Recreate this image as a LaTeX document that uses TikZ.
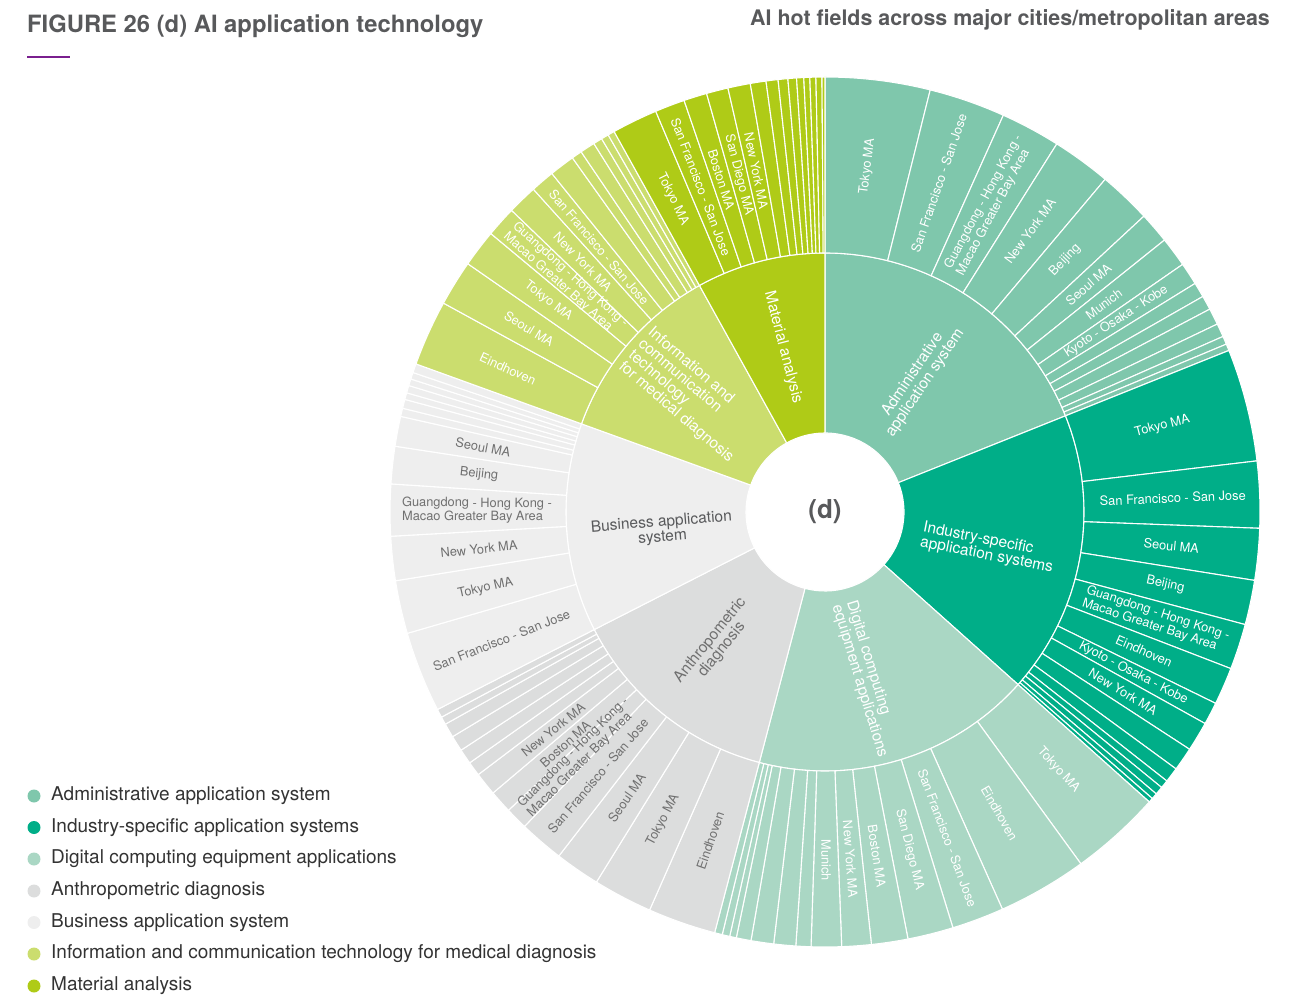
\documentclass[tikz,border=0pt]{standalone}
\usepackage{fontspec}
\setmainfont{TeX Gyre Heros}
\usetikzlibrary{calc}
\definecolor{cA}{HTML}{7FC7AC}
\definecolor{cI}{HTML}{00AE88}
\definecolor{cD}{HTML}{AAD7C4}
\definecolor{cN}{HTML}{DCDDDD}
\definecolor{cB}{HTML}{EEEEEE}
\definecolor{cT}{HTML}{CBDD6E}
\definecolor{cM}{HTML}{AFCB17}
\definecolor{cTitle}{HTML}{58595B}
\definecolor{cPurple}{HTML}{7A1F8E}
\definecolor{cGrayTxt}{HTML}{707070}
\definecolor{cLeg}{HTML}{333333}
\newcommand\seg[5]{\filldraw[fill=#5,draw=white,line width=1.1pt,line join=round]
  ({90-(#3)}:#1pt) -- ({90-(#3)}:#2pt) arc[start angle={90-(#3)}, end angle={90-(#4)}, radius=#2pt]
  -- ({90-(#4)}:#1pt) arc[start angle={90-(#4)}, end angle={90-(#3)}, radius=#1pt] -- cycle;}
\newcommand\oseg[3]{\seg{259}{435}{#1}{#2}{#3}}
\newcommand\olab[5]{\pgfmathsetmacro\mA{90-((#2)+(#3))/2}%
  \pgfmathsetmacro\rA{\mA+180*(\mA<-90)}%
  \node[olabel,text=#4,rotate=\rA] (#1) at (\mA:348pt) {#5};}
\tikzset{
  olabel/.style={font=\fontsize{12.8}{13.6}\selectfont, inner sep=0pt, align=left},
  ilabel/.style={font=\fontsize{15.5}{15}\selectfont, inner sep=0pt, align=center},
  legdot/.style={circle, inner sep=0pt, minimum size=13pt},
  legtxt/.style={anchor=west, inner sep=0pt, font=\fontsize{19}{20}\selectfont, text=cLeg},
}
\begin{document}
\begin{tikzpicture}[x=1pt,y=1pt]
\useasboundingbox (0,0) rectangle (1306,997);
% titles
\node[anchor=base west, inner sep=0pt, font=\bfseries\fontsize{23.8}{24}\selectfont, text=cTitle] (title) at (27,964) {FIGURE 26 (d) AI application technology};
\draw[cPurple, line width=2.5pt] (27,940) -- (70,940);
\node[anchor=base east, inner sep=0pt, font=\bfseries\fontsize{21.4}{22}\selectfont, text=cTitle] (subtitle) at (1270,971) {AI hot fields across major cities/metropolitan areas};
% legend
\node[legdot, fill=cA] (dot1) at (34,201) {};
\node[legtxt] (leg1) at (51,201) {Administrative application system};
\node[legdot, fill=cI] (dot2) at (34,169.5) {};
\node[legtxt] (leg2) at (51,169.5) {Industry-specific application systems};
\node[legdot, fill=cD] (dot3) at (34,138) {};
\node[legtxt] (leg3) at (51,138) {Digital computing equipment applications};
\node[legdot, fill=cN] (dot4) at (34,106) {};
\node[legtxt] (leg4) at (51,106) {Anthropometric diagnosis};
\node[legdot, fill=cB] (dot5) at (34,74.5) {};
\node[legtxt] (leg5) at (51,74.5) {Business application system};
\node[legdot, fill=cT] (dot6) at (34,43) {};
\node[legtxt] (leg6) at (51,43) {Information and communication technology for medical diagnosis};
\node[legdot, fill=cM] (dot7) at (34,11) {};
\node[legtxt] (leg7) at (51,11) {Material analysis};

\begin{scope}[shift={(825,485)}]
% inner ring
\seg{79}{259}{0}{68.2}{cA}
\seg{79}{259}{68.2}{131.8}{cI}
\seg{79}{259}{131.8}{194.7}{cD}
\seg{79}{259}{194.7}{243}{cN}
\seg{79}{259}{243}{289.9}{cB}
\seg{79}{259}{289.9}{331}{cT}
\seg{79}{259}{331}{360}{cM}
% outer ring: administrative
\foreach \a/\b in {0/14,14/24.2,24.2/32.2,32.2/40.1,40.1/47.15,47.15/51.3,51.3/55.3,55.3/58.3,58.3/60.3,60.3/62.2,62.2/64.4,64.4/66.2,66.2/67.3,67.3/68.2} {\oseg{\a}{\b}{cA}}
% industry
\foreach \a/\b in {68.2/83.25,83.25/92.15,92.15/99.05,99.05/105,105/111.1,111.1/116.1,116.1/119.1,119.1/123.06,123.06/126.2,126.2/128.2,128.2/129.3,129.3/130.4,130.4/131.2,131.2/131.8} {\oseg{\a}{\b}{cI}}
% digital
\foreach \a/\b in {131.8/143.97,143.97/155.93,155.93/162.9,162.9/169,169/173.87,173.87/177.8,177.8/181.84,181.84/183.85,183.85/186.78,186.78/189.8,189.8/191.77,191.77/192.66,192.66/193.67,193.67/194.7} {\oseg{\a}{\b}{cD}}
% anthropometric
\foreach \a/\b in {194.7/203.78,203.78/211.7,211.7/217.73,217.73/223.7,223.7/226.7,226.7/229.76,229.76/232.86,232.86/234.78,234.78/236.8,236.8/238.9,238.9/240.8,240.8/241.86,241.86/243} {\oseg{\a}{\b}{cN}}
% business
\foreach \a/\b in {243/253.8,253.8/260.9,260.9/266.8,266.8/273.7,273.7/278.7,278.7/282.7,282.7/283.8,283.8/285,285/285.9,285.9/286.9,286.9/287.8,287.8/288.7,288.7/289.9} {\oseg{\a}{\b}{cB}}
% ICT
\foreach \a/\b in {289.9/298.7,298.7/304.8,304.8/309.8,309.8/313.9,313.9/317.9,317.9/321.1,321.1/324.5,324.5/325.9,325.9/327.9,327.9/329.1,329.1/330.1,330.1/331} {\oseg{\a}{\b}{cT}}
% material
\foreach \a/\b in {331/337.1,337.1/341.1,341.1/344.2,344.2/347.1,347.1/350.1,350.1/352.2,352.2/353.8,353.8/355.1,355.1/356.25,356.25/357.2,357.2/358,358/358.8,358.8/359.6,359.6/360} {\oseg{\a}{\b}{cM}}

% centre
\node[font=\bfseries\fontsize{26}{26}\selectfont, text=cTitle, inner sep=0pt] (d) at (0,0) {(d)};
% inner labels
\node[ilabel, text=white, rotate=55.9] (inA) at (54.8:163pt) {Administrative\\application system};
\node[ilabel, text=white, rotate=-11, align=left] (inI) at (-12.5:167pt) {Industry-specific\\application systems};
\node[ilabel, text=white, rotate=-73, align=left] (inD) at (-76:172pt) {Digital computing\\equipment applications};
\node[ilabel, text=cGrayTxt, rotate=51] (inN) at (-129.3:172pt) {Anthropometric\\diagnosis};
\node[ilabel, text=cTitle, rotate=4.5] (inB) at (-173.7:164pt) {Business application\\system};
\node[ilabel, text=white, rotate=-40.5, align=left] (inT) at (139:178pt) {Information and\\communication\\technology\\for medical diagnosis};
\node[ilabel, text=white, rotate=-75.5] (inM) at (104.3:170pt) {Material analysis};

% outer labels
\olab{a1}{0}{14}{white}{Tokyo MA}
\olab{a2}{14}{24.2}{white}{San Francisco - San Jose}
\olab{a3}{24.2}{32.2}{white}{Guangdong - Hong Kong -\\Macao Greater Bay Area}
\olab{a4}{32.2}{40.1}{white}{New York MA}
\olab{a5}{40.1}{47.15}{white}{Beijing}
\olab{a6}{47.15}{51.3}{white}{Seoul MA}
\olab{a7}{51.3}{55.3}{white}{Munich}
\olab{a8}{55.3}{58.3}{white}{Kyoto - Osaka - Kobe}

\olab{i1}{68.2}{83.25}{white}{Tokyo MA}
\olab{i2}{83.25}{92.15}{white}{San Francisco - San Jose}
\olab{i3}{92.15}{99.05}{white}{Seoul MA}
\olab{i4}{99.05}{105}{white}{Beijing}
\olab{i5}{105}{111.1}{white}{Guangdong - Hong Kong -\\Macao Greater Bay Area}
\olab{i6}{111.1}{116.1}{white}{Eindhoven}
\olab{i7}{116.1}{119.1}{white}{Kyoto - Osaka - Kobe}
\olab{i8}{119.1}{123.06}{white}{New York MA}

\olab{d1}{131.8}{143.97}{white}{Tokyo MA}
\olab{d2}{143.97}{155.93}{white}{Eindhoven}
\olab{d3}{155.93}{162.9}{white}{San Francisco - San Jose}
\olab{d4}{162.9}{169}{white}{San Diego MA}
\olab{d5}{169}{173.87}{white}{Boston MA}
\olab{d6}{173.87}{177.8}{white}{New York MA}
\olab{d7}{177.8}{181.84}{white}{Munich}

\olab{n1}{194.7}{203.78}{cGrayTxt}{Eindhoven}
\olab{n2}{203.78}{211.7}{cGrayTxt}{Tokyo MA}
\olab{n3}{211.7}{217.73}{cGrayTxt}{Seoul MA}
\olab{n4}{217.73}{223.7}{cGrayTxt}{San Francisco - San Jose}
\olab{n5}{223.7}{226.7}{cGrayTxt}{Guangdong - Hong Kong -\\Macao Greater Bay Area}
\olab{n6}{226.7}{229.76}{cGrayTxt}{Boston MA}
\olab{n7}{229.76}{232.86}{cGrayTxt}{New York MA}

\olab{b1}{243}{253.8}{cGrayTxt}{San Francisco - San Jose}
\olab{b2}{253.8}{260.9}{cGrayTxt}{Tokyo MA}
\olab{b3}{260.9}{266.8}{cGrayTxt}{New York MA}
\olab{b4}{266.8}{273.7}{cGrayTxt}{Guangdong - Hong Kong -\\Macao Greater Bay Area}
\olab{b5}{273.7}{278.7}{cGrayTxt}{Beijing}
\olab{b6}{278.7}{282.7}{cGrayTxt}{Seoul MA}

\olab{t1}{289.9}{298.7}{white}{Eindhoven}
\olab{t2}{298.7}{304.8}{white}{Seoul MA}
\olab{t3}{304.8}{309.8}{white}{Tokyo MA}
\olab{t4}{309.8}{313.9}{white}{Guangdong - Hong Kong -\\Macao Greater Bay Area}
\olab{t5}{313.9}{317.9}{white}{New York MA}
\olab{t6}{317.9}{321.1}{white}{San Francisco - San Jose}

\olab{m1}{331}{337.1}{white}{Tokyo MA}
\olab{m2}{337.1}{341.1}{white}{San Francisco - San Jose}
\olab{m3}{341.1}{344.2}{white}{Boston MA}
\olab{m4}{344.2}{347.1}{white}{San Diego MA}
\olab{m5}{347.1}{350.1}{white}{New York MA}
\end{scope}
\end{tikzpicture}
\end{document}
